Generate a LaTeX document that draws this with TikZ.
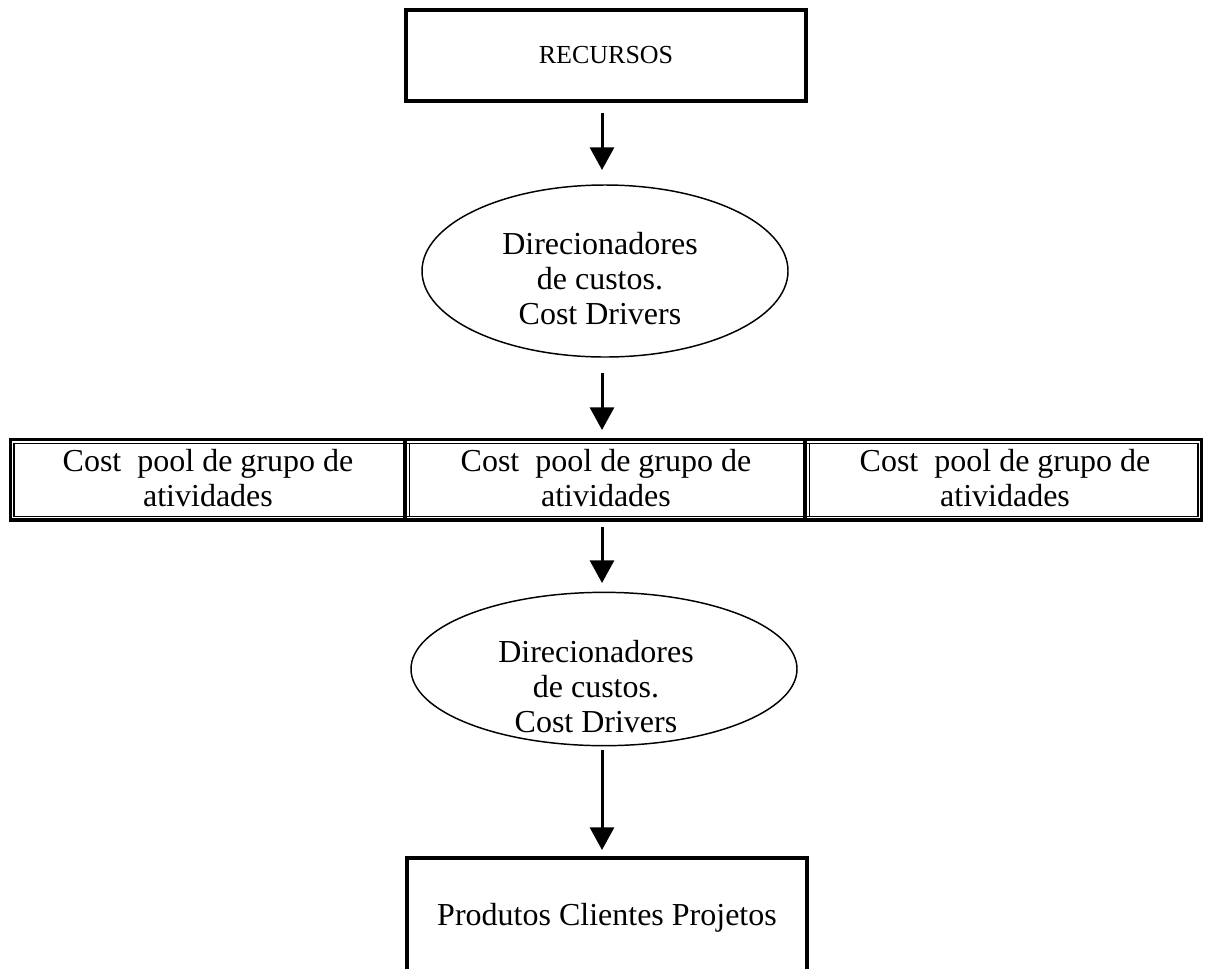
\documentclass[tikz,border=0pt]{standalone}
\usepackage{fontspec}
\setmainfont{Liberation Serif}
\usetikzlibrary{arrows.meta,shapes.geometric}
\begin{document}
\begin{tikzpicture}[x=0.75pt,y=-0.75pt,
  thickbox/.style={draw=black,line width=3pt},
  ell/.style={ellipse,draw=black,line width=1.1pt,inner sep=0pt},
  txt/.style={font=\fontsize{24}{26.25}\selectfont,align=center,inner sep=0pt},
  flow/.style={line width=2.25pt,-{Triangle[width=18pt,length=17pt]}},
  thickline/.style={line width=2.5pt},
  thinline/.style={line width=0.9pt}]
\useasboundingbox (0,0) rectangle (1205,968);
% top box
\node[thickbox,minimum width=299.5pt,minimum height=68pt,inner sep=0pt,
      font=\fontsize{19.5}{21}\selectfont] (rec) at (606,55.5) {RECURSOS};
% ellipse 1
\node[ell,minimum width=274.5pt,minimum height=129pt] (e1) at (605,271) {};
\node[txt] (t1) at (600,279) {Direcionadores\\de custos.\\Cost Drivers};
% cells frame
\draw[thickline] (10.5,439.5) rectangle (1201.5,520);
\draw[thinline] (14,443.5) rectangle (1198,516.5);
\draw[thickline] (405,439.5) -- (405,520);
\draw[thinline] (409.5,443.5) -- (409.5,516.5);
\draw[thickline] (805,439.5) -- (805,520);
\draw[thinline] (809.5,443.5) -- (809.5,516.5);
\node[txt,minimum width=280pt,minimum height=60pt] (c1) at (208,478) {Cost\ \ pool de grupo de\\atividades};
\node[txt,minimum width=280pt,minimum height=60pt] (c2) at (606,478) {Cost\ \ pool de grupo de\\atividades};
\node[txt,minimum width=280pt,minimum height=60pt] (c3) at (1005,478) {Cost\ \ pool de grupo de\\atividades};
% ellipse 2
\node[ell,minimum width=289.5pt,minimum height=115pt] (e2) at (604,669) {};
\node[txt] (t2) at (596,687) {Direcionadores\\de custos.\\Cost Drivers};
% bottom box (open at the bottom of the page)
\node[minimum width=300pt,minimum height=84pt,inner sep=0pt] (b5) at (607,914) {};
\node[txt] (t5) at (607,918) {Produtos Clientes Projetos};
\draw[thickbox] (b5.south west) |- (b5.north east) -- (b5.south east);
% arrows
\coordinate (a1s) at (602,113);
\coordinate (a2s) at (602,373);
\coordinate (a3s) at (602,527);
\coordinate (a4s) at (602,750);
\draw[flow] (a1s) -- (602,170);
\draw[flow] (a2s) -- (602,430);
\draw[flow] (a3s) -- (602,583);
\draw[flow] (a4s) -- (602,850);
\end{tikzpicture}
\end{document}
